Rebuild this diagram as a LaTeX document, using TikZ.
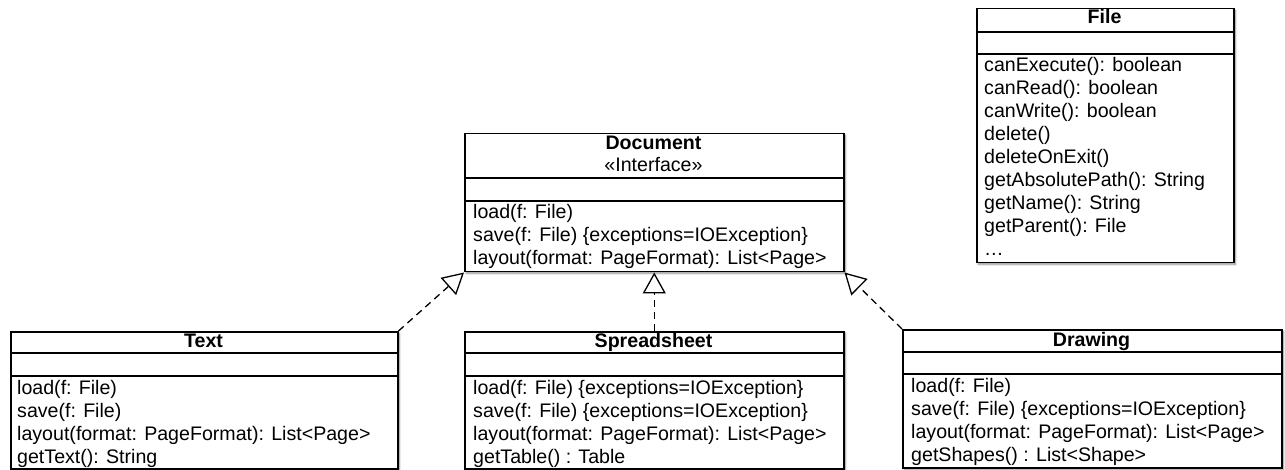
\documentclass[tikz,border=0pt]{standalone}
\usepackage{fontspec}
\setmainfont{Liberation Sans}
\usetikzlibrary{arrows.meta,shadows.blur}
\tikzset{
  cls/.style={draw=black, line width=1.5pt, fill=white, anchor=north west, inner sep=0pt,
    blur shadow={shadow xshift=1.5pt, shadow yshift=-1.5pt, shadow blur radius=2pt,
      shadow blur steps=6, shadow opacity=45}},
  sepline/.style={line width=1.3pt},
  ttl/.style={anchor=base, inner sep=0pt, font=\fontsize{19.6}{23}\selectfont\bfseries},
  stereo/.style={anchor=base, inner sep=0pt, font=\fontsize{19.6}{23}\selectfont},
  txt/.style={anchor=base west, inner sep=0pt, font=\fontsize{19.6}{23}\selectfont},
  realize/.style={line width=1.3pt, dash pattern=on 7pt off 5pt,
    -{Triangle[open, length=21pt, width=23pt, line width=1.3pt]}}
}
\begin{document}
\begin{tikzpicture}[x=1pt, y=-1pt]
\useasboundingbox (0,0) rectangle (1285,470);

% ---------- Document ----------
\node[cls, minimum width=379pt, minimum height=138pt] (doc) at (464,133) {};
\draw[sepline] ([yshift=-45pt]doc.north west) -- ([yshift=-45pt]doc.north east);
\draw[sepline] ([yshift=-68pt]doc.north west) -- ([yshift=-68pt]doc.north east);
\node[ttl] (docT) at (653.5,150) {Document};
\node[stereo] (docS) at (653.5,172) {«Interface»};
\node[txt] (docM1) at (473,219) {load(f: File)};
\node[txt] (docM2) at (473,242) {save(f: File) \{exceptions=IOException\}};
\node[txt] (docM3) at (473,265) {layout(format: PageFormat): List<Page>};

% ---------- File ----------
\node[cls, minimum width=257pt, minimum height=254pt] (file) at (976,8) {};
\draw[sepline] ([yshift=-24pt]file.north west) -- ([yshift=-24pt]file.north east);
\draw[sepline] ([yshift=-46pt]file.north west) -- ([yshift=-46pt]file.north east);
\node[ttl] (fileT) at (1104.5,24) {File};
\node[txt] (fileM1) at (984,72) {canExecute(): boolean};
\node[txt] (fileM2) at (984,95) {canRead(): boolean};
\node[txt] (fileM3) at (984,118) {canWrite(): boolean};
\node[txt] (fileM4) at (984,141) {delete()};
\node[txt] (fileM5) at (984,164) {deleteOnExit()};
\node[txt] (fileM6) at (984,187) {getAbsolutePath(): String};
\node[txt] (fileM7) at (984,210) {getName(): String};
\node[txt] (fileM8) at (984,233) {getParent(): File};
\node[txt] (fileM9) at (984,256) {…};

% ---------- Text ----------
\node[cls, minimum width=387pt, minimum height=137pt] (text) at (10,331) {};
\draw[sepline] ([yshift=-22pt]text.north west) -- ([yshift=-22pt]text.north east);
\draw[sepline] ([yshift=-45pt]text.north west) -- ([yshift=-45pt]text.north east);
\node[ttl] (textT) at (203.5,347) {Text};
\node[txt] (textM1) at (17,394) {load(f: File)};
\node[txt] (textM2) at (17,417) {save(f: File)};
\node[txt] (textM3) at (17,440) {layout(format: PageFormat): List<Page>};
\node[txt] (textM4) at (17,463) {getText(): String};

% ---------- Spreadsheet ----------
\node[cls, minimum width=379pt, minimum height=137pt] (sheet) at (464,331) {};
\draw[sepline] ([yshift=-22pt]sheet.north west) -- ([yshift=-22pt]sheet.north east);
\draw[sepline] ([yshift=-45pt]sheet.north west) -- ([yshift=-45pt]sheet.north east);
\node[ttl] (sheetT) at (653.5,347) {Spreadsheet};
\node[txt] (sheetM1) at (473,394) {load(f: File) \{exceptions=IOException\}};
\node[txt] (sheetM2) at (473,417) {save(f: File) \{exceptions=IOException\}};
\node[txt] (sheetM3) at (473,440) {layout(format: PageFormat): List<Page>};
\node[txt] (sheetM4) at (473,463) {getTable() : Table};

% ---------- Drawing ----------
\node[cls, minimum width=379pt, minimum height=138pt] (drawing) at (902,329) {};
\draw[sepline] ([yshift=-23pt]drawing.north west) -- ([yshift=-23pt]drawing.north east);
\draw[sepline] ([yshift=-45pt]drawing.north west) -- ([yshift=-45pt]drawing.north east);
\node[ttl] (drawingT) at (1091.5,346) {Drawing};
\node[txt] (drawingM1) at (911,392) {load(f: File)};
\node[txt] (drawingM2) at (911,415) {save(f: File) \{exceptions=IOException\}};
\node[txt] (drawingM3) at (911,438) {layout(format: PageFormat): List<Page>};
\node[txt] (drawingM4) at (911,461) {getShapes() : List<Shape>};

% ---------- realizations ----------
\draw[realize] (text.north east) -- (doc.south west);
\draw[realize] (sheet.north) -- (doc.south);
\draw[realize] (drawing.north west) -- (doc.south east);
\end{tikzpicture}
\end{document}
